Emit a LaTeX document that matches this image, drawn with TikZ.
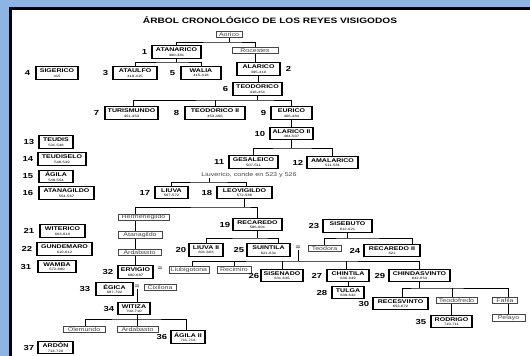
\documentclass[tikz,border=0pt]{standalone}
\usepackage{fontspec}
\setmainfont{Liberation Sans}[FakeStretch=1.3]
\definecolor{frameblue}{RGB}{141,180,226}
\definecolor{secgray}{RGB}{70,70,70}
\pgfdeclarelayer{back}
\pgfdeclarelayer{bg}
\pgfsetlayers{back,bg,main}
\newcommand\dt[1]{{\fontsize{3.2}{3.2}\selectfont\mdseries #1}}
\begin{document}
\begin{tikzpicture}[x=1pt,y=-1pt,
  king/.style={draw=black, line width=1.3pt, fill=white, inner sep=0pt,
    minimum height=12.5pt, align=center, font=\fontsize{5.4}{4.3}\selectfont\bfseries},
  sec/.style={draw=secgray, line width=0.6pt, fill=white, inner sep=0pt,
    minimum height=6.5pt, text=secgray, font=\fontsize{5.4}{5.4}\selectfont},
  num/.style={font=\fontsize{7.3}{7.5}\selectfont\bfseries, inner sep=0pt, anchor=east},
  eqs/.style={font=\fontsize{6.5}{6.5}\selectfont\bfseries, inner sep=0.5pt, text=secgray},
  edge/.style={line width=1pt, black}]
\useasboundingbox (0,0) rectangle (530,356);
\begin{pgfonlayer}{back}
\fill[frameblue] (0,0) rectangle (530,356);
\fill[white] (10.5,8.5) rectangle (531,357);
\draw[line width=3.5pt] (10.5,357) -- (10.5,8.5) -- (531,8.5);
\end{pgfonlayer}

\node[font=\fontsize{7.8}{8}\selectfont\bfseries] (title) at (270,20.5) {ÁRBOL CRONOLÓGICO DE LOS REYES VISIGODOS};

% secondary persons
\node[sec, minimum width=26pt] (aorico) at (229,34.5) {Aorico};
\node[sec, minimum width=46pt] (rocestes) at (255,50.5) {Rocestes};
\node[sec, minimum width=51pt] (hermenegildo) at (143.5,217.5) {Hermenegildo};
\node[sec, minimum width=44pt] (atanagildo2) at (140,235) {Atanagildo};
\node[sec, minimum width=43pt] (ardabasto) at (139.5,252.5) {Ardabasto};
\node[sec, minimum width=40pt] (liubigotona) at (189,270) {Liubigotona};
\node[sec, minimum width=34pt] (recimiro) at (234,270) {Recimiro};
\node[sec, minimum width=32pt] (cixilona) at (160,287.5) {Cixilona};
\node[sec, minimum width=33pt] (teodora) at (324.5,248.5) {Teodora};
\node[sec, minimum width=41pt] (teodofredo) at (456.5,300.5) {Teodofredo};
\node[sec, minimum width=25pt] (fafila) at (505,300.5) {Fafila};
\node[sec, minimum width=33pt] (pelayo) at (508.5,318) {Pelayo};
\node[sec, minimum width=42pt] (olemundo) at (84,329.5) {Olemundo};
\node[sec, minimum width=41pt] (ardabasto2) at (137.5,329.5) {Ardabasto};
\node[font=\fontsize{5.5}{5.5}\selectfont, text=secgray, inner sep=0.5pt] (liuverico) at (249,175) {Liuverico, conde en 523 y 526};

% kings
\node[king, minimum width=49pt] (atanarico) at (176.5,52) {ATANARICO\\\dt{380-381}};
\node[king, minimum width=43pt] (alarico) at (258.5,69) {ALARICO\\\dt{395-410}};
\node[king, minimum width=44pt] (ataulfo) at (135,73) {ATAULFO\\\dt{410-415}};
\node[king, minimum width=42pt] (sigerico) at (57,73) {SIGERICO\\\dt{415}};
\node[king, minimum width=40pt] (walia) at (201,73) {WALIA\\\dt{415-418}};
\node[king, minimum width=49pt] (teodorico) at (257.5,89) {TEODORICO\\\dt{418-451}};
\node[king, minimum width=53pt] (turismundo) at (131.5,113) {TURISMUNDO\\\dt{451-453}};
\node[king, minimum width=60pt] (teodoricoii) at (215,113) {TEODORICO II\\\dt{453-466}};
\node[king, minimum width=41pt] (eurico) at (291.5,113) {EURICO\\\dt{466-484}};
\node[king, minimum width=43pt] (alaricoii) at (291.5,133.5) {ALARICO II\\\dt{484-507}};
\node[king, minimum width=49pt] (gesaleico) at (253.5,162) {GESALEICO\\\dt{507-511}};
\node[king, minimum width=51pt] (amalarico) at (332.5,162.5) {AMALARICO\\\dt{511-531}};
\node[king, minimum width=34pt] (teudis) at (56,142) {TEUDIS\\\dt{531-548}};
\node[king, minimum width=48pt] (teudiselo) at (62,159) {TEUDISELO\\\dt{548-549}};
\node[king, minimum width=34pt] (agila) at (56,176.5) {ÁGILA\\\dt{549-554}};
\node[king, minimum width=55pt] (atanagildo) at (66.5,193) {ATANAGILDO\\\dt{554-567}};
\node[king, minimum width=33pt] (liuva) at (171.5,192.5) {LIUVA\\\dt{567-572}};
\node[king, minimum width=55pt] (leovigildo) at (244.5,192.5) {LEOVIGILDO\\\dt{572-586}};
\node[king, minimum width=49pt] (recaredo) at (257.5,224.5) {RECAREDO\\\dt{586-601}};
\node[king, minimum width=34pt] (liuvaii) at (206,250) {LIUVA II\\\dt{601-603}};
\node[king, minimum width=45pt] (witerico) at (62.5,231) {WITERICO\\\dt{603-610}};
\node[king, minimum width=55pt] (gundemaro) at (64.5,249) {GUNDEMARO\\\dt{610-612}};
\node[king, minimum width=49pt] (sisebuto) at (347.5,226) {SISEBUTO\\\dt{612-621}};
\node[king, minimum width=56pt] (recaredoii) at (392,250.5) {RECAREDO II\\\dt{621}};
\node[king, minimum width=43pt] (suintila) at (268.5,250) {SUINTILA\\\dt{621-631}};
\node[king, minimum width=42pt] (sisenado) at (282,275.5) {SISENADO\\\dt{631-636}};
\node[king, minimum width=42pt] (chintila) at (348,275.5) {CHINTILA\\\dt{636-639}};
\node[king, minimum width=32pt] (tulga) at (348,292.5) {TULGA\\\dt{639-642}};
\node[king, minimum width=61pt] (chindasvinto) at (419.5,275.5) {CHINDASVINTO\\\dt{642-653}};
\node[king, minimum width=55pt] (recesvinto) at (400.5,303.5) {RECESVINTO\\\dt{653-672}};
\node[king, minimum width=38pt] (wamba) at (57,266.5) {WAMBA\\\dt{672-680}};
\node[king, minimum width=35pt] (ervigio) at (135.5,272) {ERVIGIO\\\dt{680-687}};
\node[king, minimum width=37pt] (egica) at (114.5,289) {ÉGICA\\\dt{687-702}};
\node[king, minimum width=32pt] (witiza) at (134,308.5) {WITIZA\\\dt{702-710}};
\node[king, minimum width=41pt] (rodrigo) at (451.5,321.5) {RODRIGO\\\dt{710-711}};
\node[king, minimum width=34pt] (agilaii) at (188,337) {ÁGILA II\\\dt{711-714}};
\node[king, minimum width=35pt] (ardon) at (55.5,347.5) {ARDÓN\\\dt{714-720}};

% numbers
\node[num] (n1) at ([xshift=-4pt]atanarico.west) {1};
\node[num, anchor=west] (n2) at ([xshift=5pt]alarico.east) {2};
\node[num] (n3) at ([xshift=-4pt]ataulfo.west) {3};
\node[num] (n4) at ([xshift=-5pt]sigerico.west) {4};
\node[num] (n5) at ([xshift=-5pt]walia.west) {5};
\node[num] (n6) at ([xshift=-4pt]teodorico.west) {6};
\node[num] (n7) at ([xshift=-5pt]turismundo.west) {7};
\node[num] (n8) at ([xshift=-5pt]teodoricoii.west) {8};
\node[num] (n9) at ([xshift=-4pt]eurico.west) {9};
\node[num] (n10) at ([xshift=-4pt]alaricoii.west) {10};
\node[num] (n11) at ([xshift=-4pt]gesaleico.west) {11};
\node[num] (n12) at ([xshift=-3pt]amalarico.west) {12};
\node[num] (n13) at ([xshift=-4pt]teudis.west) {13};
\node[num] (n14) at ([xshift=-4pt]teudiselo.west) {14};
\node[num] (n15) at ([xshift=-5pt]agila.west) {15};
\node[num] (n16) at ([xshift=-5pt]atanagildo.west) {16};
\node[num] (n17) at ([xshift=-4pt]liuva.west) {17};
\node[num] (n18) at ([xshift=-4pt]leovigildo.west) {18};
\node[num] (n19) at ([xshift=-2pt]recaredo.west) {19};
\node[num] (n20) at ([xshift=-2pt]liuvaii.west) {20};
\node[num] (n21) at ([xshift=-5pt]witerico.west) {21};
\node[num] (n22) at ([xshift=-4pt]gundemaro.west) {22};
\node[num] (n23) at ([xshift=-3pt]sisebuto.west) {23};
\node[num] (n24) at ([xshift=-3pt]recaredoii.west) {24};
\node[num] (n25) at ([xshift=-2pt]suintila.west) {25};
\node[num] (n26) at ([xshift=-1pt]sisenado.west) {26};
\node[num] (n27) at ([xshift=-4pt]chintila.west) {27};
\node[num] (n28) at ([xshift=-4pt]tulga.west) {28};
\node[num] (n29) at ([xshift=-3pt]chindasvinto.west) {29};
\node[num] (n30) at ([xshift=-3pt]recesvinto.west) {30};
\node[num] (n31) at ([xshift=-6pt]wamba.west) {31};
\node[num] (n32) at ([xshift=-4pt]ervigio.west) {32};
\node[num] (n33) at ([xshift=-5pt]egica.west) {33};
\node[num] (n34) at ([xshift=-3pt]witiza.west) {34};
\node[num] (n35) at ([xshift=-4pt]rodrigo.west) {35};
\node[num] (n36) at ([xshift=-3pt]agilaii.west) {36};
\node[num] (n37) at ([xshift=-3pt]ardon.west) {37};

% marriage signs
\node[eqs] (eq1) at (298,248) {=};
\node[eqs] (eq2) at (137,287) {=};
\node[eqs] (eq3) at (160,269) {=};

% junctions
\coordinate (jA) at (229,42);
\coordinate (j1) at (176.5,62);
\coordinate (j6) at (257.5,100);
\coordinate (j10) at (291.5,148);
\coordinate (j17) at (209,182);
\coordinate (j18) at (244.5,207);
\coordinate (j19) at (257.5,238);
\coordinate (j25) at (298,261);
\coordinate (j23) at (347.5,238);
\coordinate (j29) at (419.5,288);
\coordinate (j34) at (137,319);

\begin{pgfonlayer}{bg}
\draw[edge] (aorico) -- (jA);
\draw[edge] (atanarico.north) |- (jA) -| (rocestes.north);
\draw[edge] (rocestes.south) -- (rocestes.south |- alarico.north);
\draw[edge] (alarico.south) -- (alarico.south |- teodorico.north);
\draw[edge] (atanarico.south) -- (j1);
\draw[edge] (ataulfo.north) |- (j1) -| (walia.north);
\draw[edge] (teodorico.south) -- (j6);
\draw[edge] ([xshift=1.5pt]turismundo.north) |- (j6) -| (eurico.north);
\draw[edge] (teodoricoii.north) -- (teodoricoii.north |- j6);
\draw[edge] (eurico.south) -- (alaricoii.north);
\draw[edge] (alaricoii.south) -- (j10);
\draw[edge] (gesaleico.north) |- (j10) -| (amalarico.north);
\draw[edge] (liuverico.south -| j17) -- (j17);
\draw[edge] (liuva.north) |- (j17) -| ([xshift=2pt]leovigildo.north);
\draw[edge] (leovigildo.south) -- (j18);
\draw[edge] (ervigio.north) |- (j18) -| (recaredo.north);
\draw[edge] (recaredo.south) -- (j19);
\draw[edge] (liuvaii.north) |- (j19) -| ([xshift=9.5pt]suintila.north);
\draw[edge] (eq1.south) -- (j25);
\draw[edge] ([xshift=3pt]liubigotona.north) |- (j25) -| (chindasvinto.north);
\draw[edge] (recimiro.north) -- (recimiro.north |- j25);
\draw[edge] (sisenado.north) -- (sisenado.north |- j25);
\draw[edge] ([xshift=-2pt]chintila.north) -- ([xshift=-2pt]chintila.north |- j25);
\draw[edge] (sisebuto.south) -- (j23);
\draw[edge] (teodora.north) |- (j23) -| ([xshift=20pt]recaredoii.north);
\draw[edge] (chintila.south) -- (tulga.north);
\draw[edge] (chindasvinto.south) -- (j29);
\draw[edge] ([xshift=1.5pt]recesvinto.north) |- (j29) -| (pelayo.north |- fafila.north);
\draw[edge] ([xshift=-4.5pt]teodofredo.north) -- ([xshift=-4.5pt]teodofredo.north |- j29);
\draw[edge] (rodrigo.north) -- (rodrigo.north |- teodofredo.south);
\draw[edge] (pelayo.north) -- (pelayo.north |- fafila.south);
\draw[edge] (eq2.south) -- (eq2.south |- witiza.north);
\draw[edge] (j34 |- witiza.south) -- (j34);
\draw[edge] ([xshift=1pt]olemundo.north) |- (j34) -| ([xshift=-2pt]agilaii.north);
\draw[edge] (ardabasto2.north) -- (ardabasto2.north |- j34);
\end{pgfonlayer}
\end{tikzpicture}
\end{document}
